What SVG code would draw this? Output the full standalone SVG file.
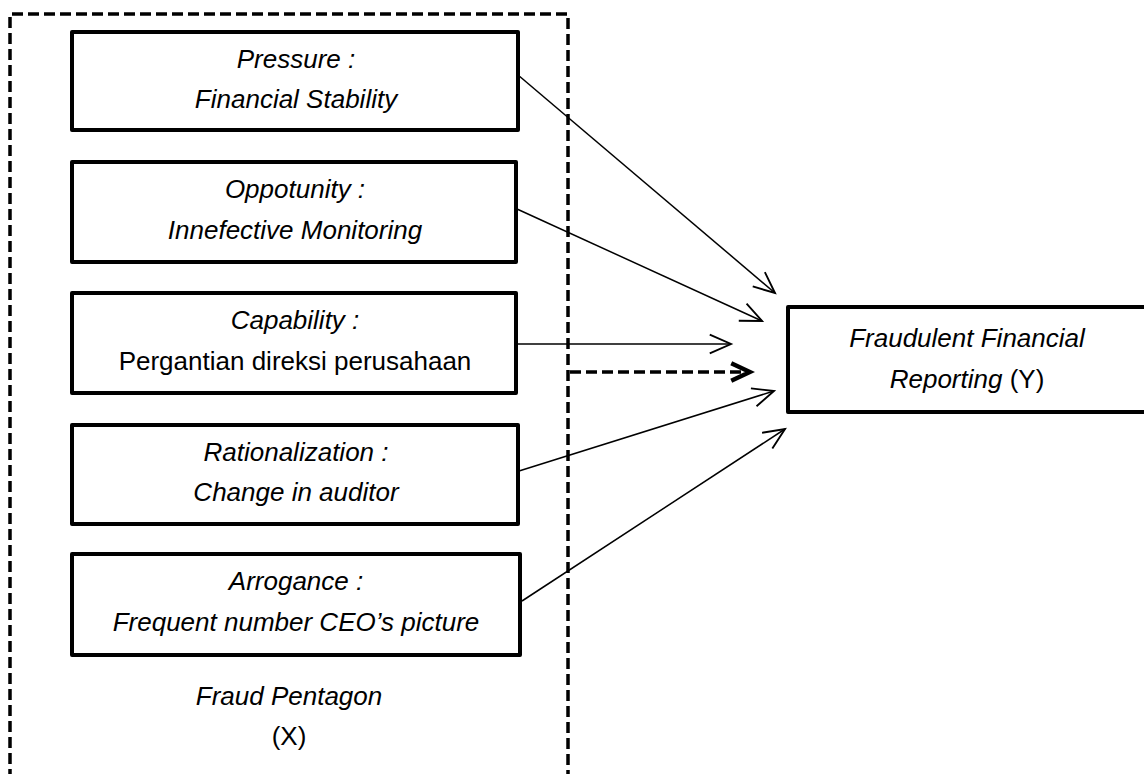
<svg xmlns="http://www.w3.org/2000/svg" width="1144" height="774" viewBox="0 0 1144 774">
<style>
.box{fill:#fff;stroke:#000;stroke-width:4;stroke-linejoin:round}
.t{font-family:"Liberation Sans",Arial,sans-serif;font-size:26px;fill:#000;text-anchor:middle}
.i{font-style:italic}
.c{stroke:#000;stroke-width:1.5;fill:none}
</style>
<defs>
<marker id="ah" markerUnits="userSpaceOnUse" markerWidth="30" markerHeight="30" viewBox="-20 -10 24 20" refX="0" refY="0" orient="auto">
<path d="M-17,-7.5 L0,0 L-17,7.5" fill="none" stroke="#000" stroke-width="1.5"/>
</marker>
<marker id="ahb" markerUnits="userSpaceOnUse" markerWidth="30" markerHeight="30" viewBox="-20 -10 24 20" refX="0" refY="0" orient="auto">
<path d="M-15,-7 L0,0 L-15,7" fill="none" stroke="#000" stroke-width="3.5"/>
</marker>
</defs>
<rect width="1144" height="774" fill="#fff"/>
<g id="frame">
<path d="M10,780 L10,14 L568,14 L568,780" fill="none" stroke="#000" stroke-width="3.5" stroke-dasharray="11,5"/>
</g>
<g id="connectors">
<line class="c" x1="518" y1="75" x2="775" y2="293" marker-end="url(#ah)"/>
<line class="c" x1="517" y1="209" x2="762" y2="321" marker-end="url(#ah)"/>
<line class="c" x1="517" y1="344" x2="731" y2="344" marker-end="url(#ah)"/>
<line x1="570" y1="372" x2="750" y2="372" stroke="#000" stroke-width="3.5" stroke-dasharray="11,5" marker-end="url(#ahb)"/>
<line class="c" x1="519" y1="471" x2="774" y2="391" marker-end="url(#ah)"/>
<line class="c" x1="522" y1="601" x2="785" y2="429" marker-end="url(#ah)"/>
</g>
<g id="pressure">
<rect class="box" x="72" y="32" width="446" height="98"/>
<text class="t i" x="296" y="68">Pressure :</text>
<text class="t i" x="296" y="108">Financial Stability</text>
</g>
<g id="opportunity">
<rect class="box" x="72" y="162" width="444" height="100"/>
<text class="t i" x="295" y="198">Oppotunity :</text>
<text class="t i" x="295" y="239">Innefective Monitoring</text>
</g>
<g id="capability">
<rect class="box" x="72" y="293" width="444" height="100"/>
<text class="t i" x="295" y="329">Capability :</text>
<text class="t" x="295" y="370">Pergantian direksi perusahaan</text>
</g>
<g id="rationalization">
<rect class="box" x="72" y="425" width="446" height="99"/>
<text class="t i" x="296" y="461">Rationalization :</text>
<text class="t i" x="296" y="501">Change in auditor</text>
</g>
<g id="arrogance">
<rect class="box" x="72" y="554" width="448" height="101"/>
<text class="t i" x="296" y="590">Arrogance :</text>
<text class="t i" x="296" y="631">Frequent number CEO’s picture</text>
</g>
<g id="pentagon-label">
<text class="t i" x="289" y="705">Fraud Pentagon</text>
<text class="t" x="289" y="745">(X)</text>
</g>
<g id="fraudulent">
<rect class="box" x="788" y="307" width="370" height="105"/>
<text class="t" x="967" y="347"><tspan class="i">Fraudulent Financial</tspan></text>
<text class="t" x="967" y="388"><tspan class="i">Reporting</tspan> (Y)</text>
</g>
</svg>
